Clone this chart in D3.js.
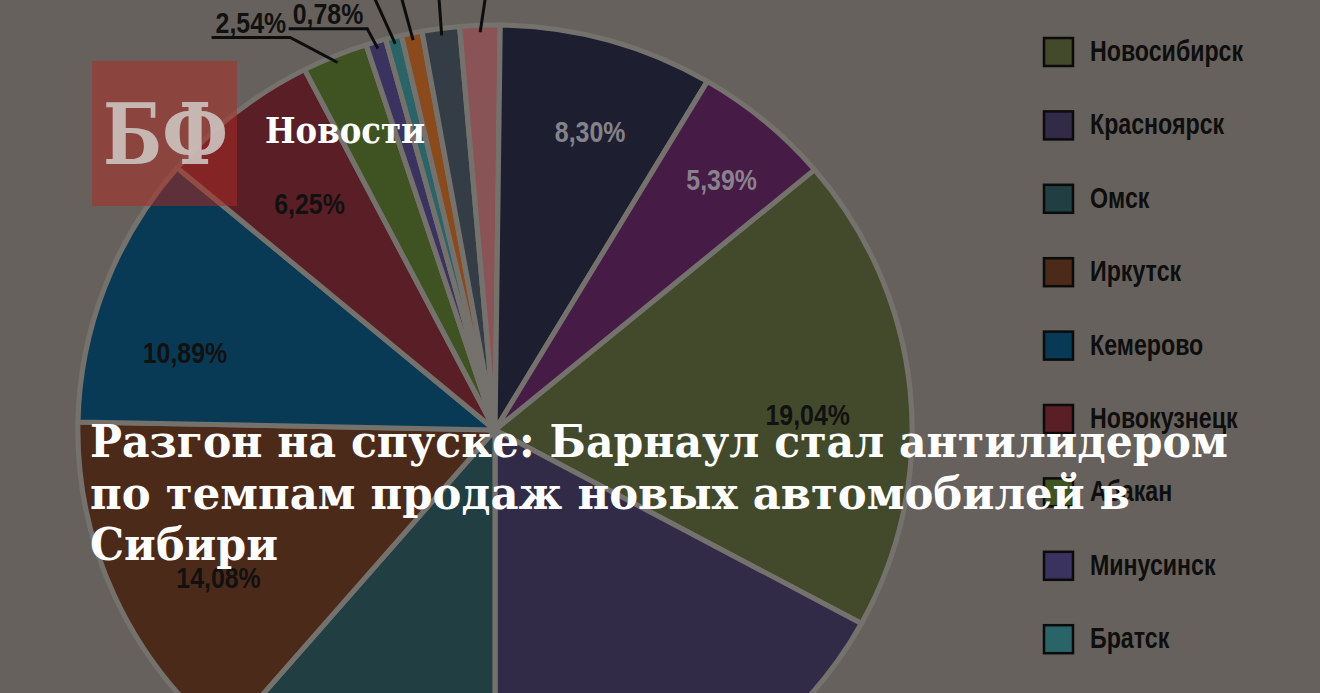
<!DOCTYPE html>
<html>
<head>
<meta charset="utf-8">
<script src="https://cdn.jsdelivr.net/npm/d3@7"></script>
<style>
  body { margin: 0; background: #66615c; overflow: hidden; }
  svg { display: block; }
</style>
</head>
<body>
<svg id="chart" width="1320" height="693"></svg>
<script>
// slices in drawing order, clockwise from Novosibirsk
const cities = ["Новосибирск", "Красноярск", "Омск", "Иркутск", "Кемерово", "Новокузнецк",
  "Абакан", "Минусинск", "Братск", null, null, null, null, null];
const shares = [19.04, 17.07, 11.24, 14.08, 10.89, 6.25, 2.54, 0.78, 0.62, 0.80, 1.45, 1.55, 8.30, 5.39];
const shareLabels = ["19,04%", null, null, "14,08%", "10,89%", "6,25%", "2,54%", "0,78%",
  null, null, null, null, "8,30%", "5,39%"];
const sliceColors = ["#434a2c", "#322b48", "#213e42", "#4b2a1a", "#093a55", "#5a1f26",
  "#3f5322", "#3a3360", "#2b6468", "#8a4a1c", "#343c45", "#8a5457", "#1d1f30", "#461b45"];
const labelColors = ["#111", null, null, "#111", "#111", "#111", "#111", "#111",
  null, null, null, null, "#85828a", "#8a8190"];
const titleLines = ["Разгон на спуске: Барнаул стал антилидером",
  "по темпам продаж новых автомобилей в", "Сибири"];

const svg = d3.select('#chart');
const cx = 495, cy = 430;
const radius = 405;
const squeeze = 1.03; // source picture is slightly stretched sideways
const startDeg = 50;
const rad = Math.PI / 180;

const data = shares.map((v, i) => ({
  name: cities[i], value: v, label: shareLabels[i], color: sliceColors[i], labelColor: labelColors[i]
}));

const pie = d3.pie().sort(null).value(d => d.value)
  .startAngle(startDeg * rad)
  .endAngle(startDeg * rad + 2 * Math.PI);
const arcs = pie(data);
const arc = d3.arc().innerRadius(0).outerRadius(radius);

// point on the (squeezed) pie for a given angle and radius
const at = (a, r) => [cx + squeeze * r * Math.sin(a), cy - r * Math.cos(a)];

const pieG = svg.append('g')
  .attr('transform', `translate(${cx},${cy}) scale(${squeeze},1)`);
pieG.selectAll('path')
  .data(arcs)
  .enter().append('path')
    .attr('d', arc)
    .attr('fill', d => d.data.color)
    .attr('stroke', '#75726e')
    .attr('stroke-width', 5)
    .attr('stroke-linejoin', 'round');

// condensed bold text like the original chart font
const condensed = (g, x, y, text, color, size, anchor, sx) => g.append('text')
  .attr('transform', `translate(${x},${y}) scale(${sx || 0.83},1)`)
  .attr('text-anchor', anchor)
  .attr('font-family', 'Liberation Sans, Arial, sans-serif')
  .attr('font-weight', 'bold')
  .attr('font-size', size)
  .attr('fill', color)
  .text(text);

// labels inside the big slices: the chart tool nudged them off the centroid a bit
// [turn in degrees, distance from centre]
const labelSpots = { 0: [2.7, 304], 3: [-4.5, 306], 4: [-6.2, 311], 5: [0, 290], 12: [1.5, 313], 13: [0.9, 334] };
arcs.forEach((d, i) => {
  if (!labelSpots[i]) return;
  const mid = (d.startAngle + d.endAngle) / 2 + labelSpots[i][0] * rad;
  const p = at(mid, labelSpots[i][1]);
  condensed(svg, p[0], p[1] + 11, d.data.label, d.data.labelColor, 30, 'middle');
});

// callouts for the small slices
const callouts = { 6: { r: 440, turn: -0.075 }, 7: { r: 420, turn: -0.01 } };
arcs.forEach((d, i) => {
  if (d.data.value >= 5 || i < 6) return;
  const mid = (d.startAngle + d.endAngle) / 2;
  const p0 = at(mid, 398);
  if (callouts[i]) {
    const p1 = at(mid + callouts[i].turn, callouts[i].r);
    const t = condensed(svg, p1[0] - 4, p1[1] - 5, d.data.label, d.data.labelColor, 30, 'end');
    const w = t.node().getComputedTextLength() * 0.83;
    svg.append('polyline')
      .attr('points', [p0, p1, [p1[0] - w - 8, p1[1]]].map(p => p.join(',')).join(' '))
      .attr('fill', 'none').attr('stroke', '#0d0d0d').attr('stroke-width', 3);
  } else {
    const p1 = at(mid, 470);
    svg.append('line')
      .attr('x1', p0[0]).attr('y1', p0[1]).attr('x2', p1[0] + (i - 9.5) * 9).attr('y2', p1[1])
      .attr('stroke', '#0d0d0d').attr('stroke-width', 3);
  }
});

// legend (the rest of it is cut off below the picture)
const legend = svg.append('g');
const legendY = d3.scalePoint().domain(d3.range(cities.length)).range([52, 52 + 73.4 * (cities.length - 1)]);
data.forEach((d, i) => {
  if (!d.name) return;
  const y = legendY(i);
  legend.append('rect')
    .attr('x', 1044).attr('y', y - 14).attr('width', 29).attr('height', 28)
    .attr('fill', d.color).attr('stroke', '#0b0b0b').attr('stroke-width', 2.5);
  condensed(legend, 1090, y + 9, d.name, '#0e0e0e', 29, 'start', 0.8);
});

// logo
svg.append('rect')
  .attr('x', 92).attr('y', 61).attr('width', 145).attr('height', 145)
  .attr('fill', '#ad2a22').attr('opacity', 0.52);
svg.append('text')
  .attr('x', 103).attr('y', 164)
  .attr('font-family', 'DejaVu Serif, serif').attr('font-weight', 'bold')
  .attr('font-size', 84).attr('fill', '#cdc4c0').attr('opacity', 0.9)
  .attr('textLength', 125).attr('lengthAdjust', 'spacingAndGlyphs')
  .text('БФ');
svg.append('text')
  .attr('x', 265).attr('y', 143)
  .attr('font-family', 'DejaVu Serif, serif').attr('font-weight', 'bold')
  .attr('font-size', 35).attr('fill', '#ffffff')
  .attr('textLength', 160).attr('lengthAdjust', 'spacingAndGlyphs')
  .text('Новости');

// headline
const titleWidths = [1138, 1040, 188];
titleLines.forEach((line, i) => {
  svg.append('text')
    .attr('x', 90).attr('y', 457 + i * 51.5)
    .attr('font-family', 'DejaVu Serif, serif').attr('font-weight', 'bold')
    .attr('font-size', 45).attr('fill', '#ffffff')
    .attr('textLength', titleWidths[i]).attr('lengthAdjust', 'spacingAndGlyphs')
    .text(line);
});
</script>
</body>
</html>
